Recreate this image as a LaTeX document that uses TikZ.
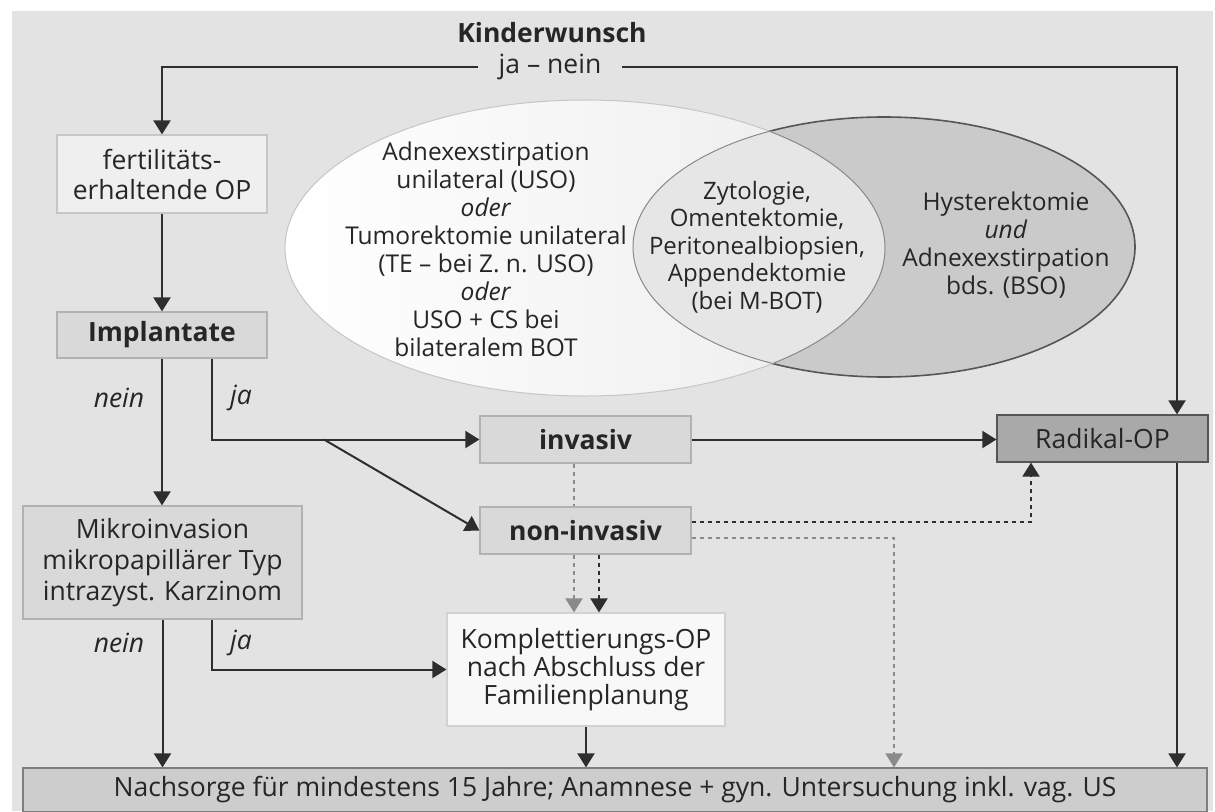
\documentclass[tikz,border=0pt]{standalone}
\usepackage{fontspec}
\setmainfont{Open Sans}
\usetikzlibrary{arrows.meta,calc}
\definecolor{bg}{HTML}{E3E3E3}
\definecolor{txt}{HTML}{262626}
\definecolor{arrowc}{HTML}{2E2E2E}
\definecolor{grayc}{HTML}{8A8A8A}
\definecolor{fertfill}{HTML}{EFEFEF}
\definecolor{fertdraw}{HTML}{C6C6C6}
\definecolor{implfill}{HTML}{D9D9D9}
\definecolor{impldraw}{HTML}{B2B2B2}
\definecolor{kompfill}{HTML}{F8F8F8}
\definecolor{kompdraw}{HTML}{D2D2D2}
\definecolor{radfill}{HTML}{A9A9A9}
\definecolor{raddraw}{HTML}{555555}
\definecolor{nachfill}{HTML}{CDCDCD}
\definecolor{nachdraw}{HTML}{7E7E7E}
\definecolor{rfill}{HTML}{CACACA}
\definecolor{lensfill}{HTML}{E6E6E6}
\definecolor{lgray}{HTML}{ECECEC}
\begin{document}
\begin{tikzpicture}[x=1pt,y=-1pt,
  every node/.style={text=txt, font=\fontsize{26.5}{28}\selectfont, align=center},
  elltext/.style={font=\fontsize{24.5}{28}\selectfont},
  base/.style={rectangle, inner sep=0pt, line width=1.2pt},
  fertbox/.style={base, fill=fertfill, draw=fertdraw, minimum width=210pt, minimum height=78pt, font=\fontsize{26.5}{30}\selectfont},
  implbox/.style={base, fill=implfill, draw=impldraw, minimum width=210pt, minimum height=46pt},
  mikrobox/.style={base, fill=implfill, draw=impldraw, minimum width=279pt, minimum height=113pt, font=\fontsize{26.5}{31}\selectfont},
  midbox/.style={base, fill=implfill, draw=impldraw, minimum width=211pt, minimum height=47pt},
  radbox/.style={base, fill=radfill, draw=raddraw, minimum width=211pt, minimum height=47pt},
  kompbox/.style={base, fill=kompfill, draw=kompdraw, minimum width=278pt, minimum height=113pt},
  nachbox/.style={base, fill=nachfill, draw=nachdraw, minimum width=1184pt, minimum height=44pt},
  lbl/.style={font=\fontsize{26.5}{28}\selectfont\itshape},
  tip/.style={-{Triangle[length=14pt,width=17pt]}},
  arr/.style={draw=arrowc, line width=2pt, tip},
  dotblack/.style={draw=arrowc, line width=2pt, dash pattern=on 4pt off 4pt},
  dotgray/.style={draw=grayc, line width=2pt, dash pattern=on 4pt off 4pt},
  ell/.style={x radius=300pt, y radius=148pt},
  elr/.style={x radius=251pt, y radius=130pt}
]
\clip (0,0) rectangle (1215,811);
\fill[white] (0,0) rectangle (1215,811);
\fill[bg] (12,11) rectangle (1213,811);

% Venn ellipses
\fill[rfill] (884,247) ellipse[elr];
\draw[raddraw, line width=1.6pt] (884,247) ellipse[elr];
\shade[left color=white, right color=lgray] (585,248) ellipse[ell];
\draw[fertdraw, line width=1pt] (585,248) ellipse[ell];
\begin{scope}
  \clip (585,248) ellipse[ell];
  \fill[lensfill] (884,247) ellipse[elr];
  \draw[grayc, line width=1pt] (884,247) ellipse[elr];
\end{scope}
\begin{scope}
  \clip (884,247) ellipse[elr];
  \draw[grayc, line width=1pt] (585,248) ellipse[ell];
\end{scope}

\node[elltext] (ltext) at (486,249) {Adnexexstirpation\\unilateral (USO)\\\textit{oder}\\Tumorektomie unilateral\\(TE – bei Z. n. USO)\\\textit{oder}\\USO + CS bei\\bilateralem BOT};
\node[elltext, font=\fontsize{24}{27.5}\selectfont] (lens) at (757,247) {Zytologie,\\Omentektomie,\\Peritonealbiopsien,\\Appendektomie\\(bei M-BOT)};
\node[elltext] (rtext) at (1006,245) {Hysterektomie\\\textit{und}\\Adnexexstirpation\\bds. (BSO)};

% title
\node[font=\fontsize{26.5}{28}\selectfont\bfseries] (kw) at (552,33) {Kinderwunsch};
\node[inner xsep=21pt, inner ysep=0pt] (jn) at (550,67) {ja – nein};

% boxes
\node[fertbox] (fert) at (162,174) {fertilitäts-\\erhaltende OP};
\node[implbox] (impl) at (162,335) {\textbf{Implantate}};
\node[mikrobox] (mikro) at (162.5,562.5) {Mikroinvasion\\mikropapillärer Typ\\intrazyst. Karzinom};
\node[midbox] (inv) at (585.5,439.5) {\textbf{invasiv}};
\node[midbox] (noninv) at (585.5,530.5) {\textbf{non-invasiv}};
\node[radbox] (rad) at (1102.5,438.5) {Radikal-OP};
\node[kompbox] (kompl) at (586,669.5) {Komplettierungs-OP\\nach Abschluss der\\Familienplanung};
\node[nachbox] (nach) at (615,790) {Nachsorge für mindestens 15 Jahre; Anamnese + gyn. Untersuchung inkl. vag. US};

% labels
\node[lbl] (n1) at (119,398) {nein};
\node[lbl] (j1) at (241,398) {ja};
\node[lbl] (n2) at (119,643) {nein};
\node[lbl] (j2) at (241,643) {ja};

% coordinates
\coordinate (rx) at (1177,67);
\coordinate (jx) at (212,0);
\coordinate (dg) at (324,439.5);
\coordinate (dx1) at (574,0);
\coordinate (dx2) at (599,0);
\coordinate (ry1) at (0,522);
\coordinate (ry2) at (0,538);
\coordinate (ux) at (1031,0);
\coordinate (gx) at (894,0);

% connectors
\draw[arr] (jn.west) -| (fert.north);
\draw[arr] (jn.east) -- (rx) -- (rx |- rad.north);
\draw[arr] (fert.south) -- (impl.north);
\draw[arr] (impl.south) -- (impl.south |- mikro.north);
\draw[arr] (impl.south -| jx) |- (inv.west);
\draw[arr] (dg) -- (noninv.west);
\draw[arr] (inv.east) -- (inv.east -| rad.west);
\draw[dotgray] (inv.south -| dx1) -- (noninv.north -| dx1);
\draw[dotgray, tip] (noninv.south -| dx1) -- (kompl.north -| dx1);
\draw[dotblack, tip] (noninv.south -| dx2) -- (kompl.north -| dx2);
\draw[dotblack, tip] (noninv.east |- ry1) -| (rad.south -| ux);
\draw[dotgray, tip] (noninv.east |- ry2) -| (nach.north -| gx);
\draw[arr] (mikro.south) -- (mikro.south |- nach.north);
\draw[arr] (mikro.south -| jx) |- (kompl.west);
\draw[arr] (kompl.south) -- (kompl.south |- nach.north);
\draw[arr] (rad.south -| rx) -- (nach.north -| rx);
\end{tikzpicture}
\end{document}
